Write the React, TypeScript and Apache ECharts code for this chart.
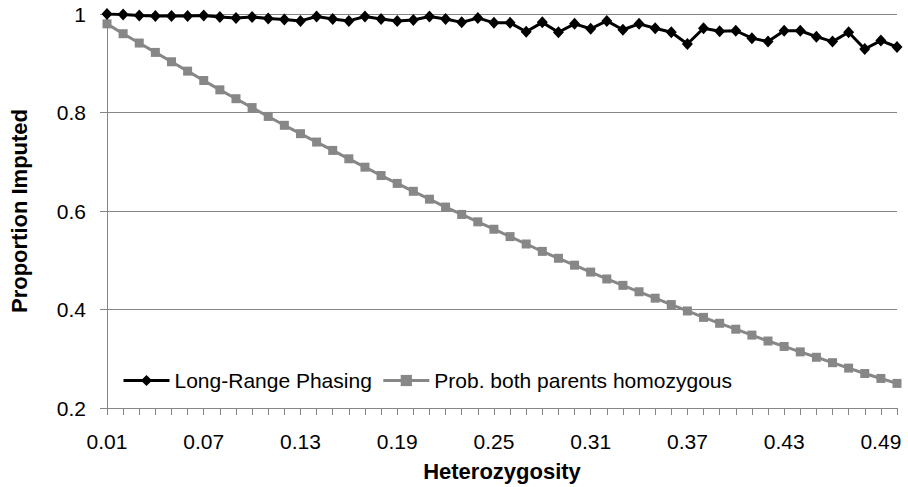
import React, { useEffect, useRef } from "react";
import * as echarts from "echarts";

const categories: string[] = [
  "0.01","0.02","0.03","0.04","0.05","0.06","0.07","0.08","0.09","0.10",
  "0.11","0.12","0.13","0.14","0.15","0.16","0.17","0.18","0.19","0.20",
  "0.21","0.22","0.23","0.24","0.25","0.26","0.27","0.28","0.29","0.30",
  "0.31","0.32","0.33","0.34","0.35","0.36","0.37","0.38","0.39","0.40",
  "0.41","0.42","0.43","0.44","0.45","0.46","0.47","0.48","0.49","0.50",
];

const longRangePhasing: number[] = [
  1.0, 0.999, 0.997, 0.996, 0.996, 0.996, 0.997, 0.994, 0.992, 0.994,
  0.991, 0.989, 0.986, 0.995, 0.99, 0.986, 0.995, 0.99, 0.986, 0.988,
  0.995, 0.99, 0.983, 0.992, 0.982, 0.982, 0.964, 0.983, 0.963, 0.98,
  0.97, 0.986, 0.968, 0.98, 0.971, 0.963, 0.939, 0.971, 0.965, 0.966,
  0.951, 0.944, 0.966, 0.966, 0.954, 0.944, 0.963, 0.929, 0.946, 0.933,
];

const bothParentsHomozygous: number[] = [
  0.98, 0.96, 0.941, 0.922, 0.903, 0.884, 0.865, 0.846, 0.828, 0.81,
  0.792, 0.774, 0.757, 0.74, 0.723, 0.706, 0.689, 0.672, 0.656, 0.64,
  0.624, 0.608, 0.593, 0.578, 0.563, 0.548, 0.533, 0.518, 0.504, 0.49,
  0.476, 0.462, 0.449, 0.436, 0.423, 0.41, 0.397, 0.384, 0.372, 0.36,
  0.348, 0.336, 0.325, 0.314, 0.303, 0.292, 0.281, 0.27, 0.26, 0.25,
];

const FONT = "'Liberation Sans', Arial, sans-serif";

export default function App() {
  const ref = useRef<HTMLDivElement>(null);
  useEffect(() => {
    if (!ref.current) return;
    const chart = echarts.init(ref.current, undefined, { renderer: "svg" });
    chart.setOption({
      animation: false,
      backgroundColor: "#ffffff",
      textStyle: { fontFamily: FONT },
      grid: { left: 93, right: 11, top: 14, bottom: 78, containLabel: false },
      legend: {
        left: 122,
        top: 370,
        padding: 0,
        itemWidth: 46,
        itemHeight: 14,
        itemGap: 10,
        textStyle: { fontSize: 21, color: "#000", fontFamily: FONT },
        data: [
          { name: "Long-Range Phasing", lineStyle: { width: 3 } },
          { name: "Prob. both parents homozygous", lineStyle: { width: 3 } },
        ],
      },
      xAxis: {
        type: "category",
        data: categories,
        boundaryGap: false,
        name: "Heterozygosity",
        nameLocation: "middle",
        nameGap: 52,
        nameTextStyle: { fontSize: 22, fontWeight: "bold", color: "#000", fontFamily: FONT },
        axisLine: { show: true, lineStyle: { color: "#868686", width: 1 } },
        axisTick: { show: true, interval: 0, length: 7, lineStyle: { color: "#868686" } },
        axisLabel: { interval: 5, fontSize: 21, color: "#000", margin: 23, fontFamily: FONT },
        splitLine: { show: false },
      },
      yAxis: {
        type: "value",
        min: 0.2,
        max: 1,
        interval: 0.2,
        name: "Proportion Imputed",
        nameLocation: "middle",
        nameGap: 77,
        nameRotate: 90,
        nameTextStyle: { fontSize: 22, fontWeight: "bold", color: "#000", fontFamily: FONT },
        axisLine: { show: true, lineStyle: { color: "#868686", width: 1 } },
        axisTick: { show: true, length: 7, lineStyle: { color: "#868686" } },
        axisLabel: {
          fontSize: 21,
          color: "#000",
          margin: 21,
          fontFamily: FONT,
          formatter: (v: number) => (Math.abs(v - 1) < 1e-9 ? "1" : v.toFixed(1)),
        },
        splitLine: { show: true, lineStyle: { color: "#868686", width: 1 } },
      },
      series: [
        {
          name: "Prob. both parents homozygous",
          type: "line",
          data: bothParentsHomozygous,
          symbol: "rect",
          symbolSize: 9,
          showAllSymbol: true,
          z: 2,
          lineStyle: { color: "#878787", width: 3 },
          itemStyle: { color: "#878787" },
        },
        {
          name: "Long-Range Phasing",
          type: "line",
          data: longRangePhasing,
          symbol: "diamond",
          symbolSize: [11, 12],
          showAllSymbol: true,
          z: 3,
          lineStyle: { color: "#000000", width: 3 },
          itemStyle: { color: "#000000" },
        },
      ],
    });
    return () => chart.dispose();
  }, []);
  return (
    <div
      ref={ref}
      style={{ position: "fixed", left: 0, top: 0, width: 908, height: 487 }}
    />
  );
}
